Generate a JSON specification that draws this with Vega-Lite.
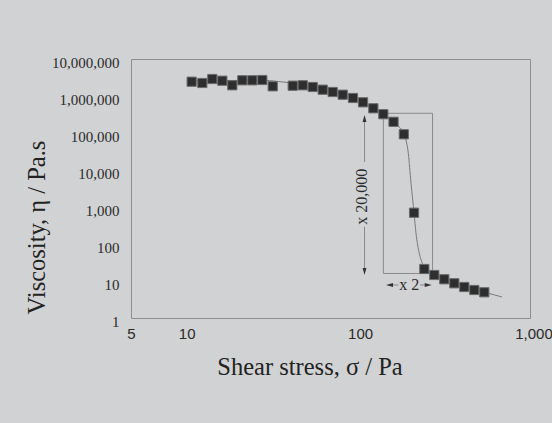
{
  "$schema": "https://vega.github.io/schema/vega-lite/v6.json",
  "width": 399,
  "height": 259,
  "autosize": "none",
  "padding": {"left": 131, "top": 59, "right": 22, "bottom": 105},
  "background": "#d1d2d4",
  "config": {
    "view": {"stroke": "#8e8e8e", "strokeWidth": 1}
  },
  "datasets": {
    "points": [
      {"x": 11.19, "y": 2435000}, {"x": 12.89, "y": 2246000}, {"x": 14.72, "y": 2880000},
      {"x": 16.81, "y": 2590000}, {"x": 19.20, "y": 1947000}, {"x": 21.93, "y": 2657000},
      {"x": 25.03, "y": 2657000}, {"x": 28.59, "y": 2706000}, {"x": 32.83, "y": 1829000},
      {"x": 42.82, "y": 1898000}, {"x": 48.90, "y": 1947000}, {"x": 55.83, "y": 1751000},
      {"x": 63.76, "y": 1480000}, {"x": 72.81, "y": 1283000}, {"x": 83.16, "y": 1084000},
      {"x": 95.35, "y": 883000}, {"x": 108.9, "y": 675500}, {"x": 124.9, "y": 465100},
      {"x": 142.6, "y": 322200}, {"x": 163.3, "y": 200800}, {"x": 187.2, "y": 92250},
      {"x": 214.4, "y": 701}, {"x": 245.8, "y": 21.1}, {"x": 280.6, "y": 14.53},
      {"x": 320.4, "y": 11.12}, {"x": 366.0, "y": 8.67}, {"x": 418.0, "y": 6.88},
      {"x": 477.3, "y": 5.71}, {"x": 545.1, "y": 4.95}
    ],
    "curve": [
      {"x": 11.24, "y": 2543000}, {"x": 18.62, "y": 2624000}, {"x": 29.64, "y": 2624000},
      {"x": 37.63, "y": 2389000}, {"x": 49.09, "y": 2046000}, {"x": 64.0, "y": 1595000},
      {"x": 83.5, "y": 1098000}, {"x": 108.9, "y": 667000}, {"x": 142.1, "y": 326000},
      {"x": 168.8, "y": 175100}, {"x": 187.7, "y": 91100}, {"x": 198.7, "y": 28300},
      {"x": 206.0, "y": 4370}, {"x": 214.4, "y": 701}, {"x": 220.1, "y": 194.6},
      {"x": 229.9, "y": 56.1}, {"x": 239.3, "y": 30.1}, {"x": 248.1, "y": 20.5},
      {"x": 280.6, "y": 14.53}, {"x": 320.4, "y": 11.12}, {"x": 366.0, "y": 8.67},
      {"x": 418.0, "y": 6.88}, {"x": 477.3, "y": 5.71}, {"x": 545.1, "y": 4.95},
      {"x": 689.6, "y": 3.70}
    ],
    "box": [{"x": 142.6, "x2": 274.1, "y": 341000, "y2": 15.95}],
    "segs": [
      {"x": 111.1, "x2": 111.1, "y": 246500, "y2": 16450},
      {"x": 111.1, "x2": 111.1, "y": 293.6, "y2": 18.07},
      {"x": 154.8, "x2": 174.4, "y": 7.80, "y2": 7.80},
      {"x": 232.1, "x2": 258.8, "y": 7.80, "y2": 7.80}
    ],
    "heads": [
      {"x": 111.1, "y": 246500, "dir": "up"},
      {"x": 111.1, "y": 18.07, "dir": "down"},
      {"x": 154.8, "y": 7.80, "dir": "left"},
      {"x": 258.8, "y": 7.80, "dir": "right"}
    ],
    "notes": [
      {"x": 107.9, "y": 1898, "text": "x 20,000", "kind": "vertical"},
      {"x": 201.4, "y": 7.80, "text": "x 2", "kind": "horizontal"}
    ]
  },
  "encoding": {
    "x": {
      "field": "x",
      "type": "quantitative",
      "scale": {"type": "log", "domain": [5, 1000], "nice": false},
      "axis": {
        "values": [5, 10, 100, 1000],
        "format": ",",
        "ticks": false,
        "domain": false,
        "grid": false,
        "labelFont": "Liberation Sans",
        "labelFontSize": 15,
        "labelColor": "#2a2a2a",
        "labelPadding": 8,
        "labelOffset": {"condition": {"test": "datum.value == 5", "value": 0}, "value": 3.5},
        "labelFlush": false,
        "title": "Shear stress, σ / Pa",
        "titleFont": "Liberation Serif",
        "titleFontSize": 24.5,
        "titleFontWeight": "normal",
        "titleColor": "#222222",
        "titleX": 178.5,
        "titleY": 56,
        "titleBaseline": "alphabetic",
        "titleAlign": "center"
      }
    },
    "y": {
      "field": "y",
      "type": "quantitative",
      "scale": {"type": "log", "domain": [1, 10000000], "nice": false},
      "axis": {
        "values": [1, 10, 100, 1000, 10000, 100000, 1000000, 10000000],
        "format": ",",
        "ticks": false,
        "domain": false,
        "grid": false,
        "labelFont": "Liberation Serif",
        "labelFontSize": 15,
        "labelColor": "#2a2a2a",
        "labelPadding": 12,
        "labelOffset": 3.5,
        "labelFlush": false,
        "title": "Viscosity, η / Pa.s",
        "titleFont": "Liberation Serif",
        "titleFontSize": 24.5,
        "titleFontWeight": "normal",
        "titleColor": "#222222",
        "titleAngle": 270,
        "titleX": -87,
        "titleY": 168,
        "titleBaseline": "alphabetic",
        "titleAlign": "center"
      }
    }
  },
  "layer": [
    {
      "data": {"name": "curve"},
      "mark": {"type": "line", "color": "#7a7a7a", "strokeWidth": 1, "interpolate": "monotone"}
    },
    {
      "data": {"name": "box"},
      "mark": {"type": "rect", "fill": null, "fillOpacity": 0, "stroke": "#8a8a8a", "strokeWidth": 1},
      "encoding": {
        "x2": {"field": "x2"},
        "y2": {"field": "y2"}
      }
    },
    {
      "data": {"name": "segs"},
      "mark": {"type": "rule", "color": "#8a8a8a", "strokeWidth": 1},
      "encoding": {
        "x2": {"field": "x2"},
        "y2": {"field": "y2"}
      }
    },
    {
      "data": {"name": "heads"},
      "mark": {"type": "point", "filled": true, "color": "#333333", "size": 49, "opacity": 1},
      "encoding": {
        "shape": {
          "field": "dir",
          "type": "nominal",
          "legend": null,
          "scale": {
            "domain": ["up", "down", "left", "right"],
            "range": [
              "M0,-1L0.55,1L-0.55,1Z",
              "M0,1L0.55,-1L-0.55,-1Z",
              "M-1,0L1,-0.55L1,0.55Z",
              "M1,0L-1,-0.55L-1,0.55Z"
            ]
          }
        }
      }
    },
    {
      "data": {"name": "points"},
      "mark": {"type": "point", "shape": "square", "filled": true, "color": "#2e2e2e", "stroke": "#6a6a6a", "strokeWidth": 1, "size": 85, "opacity": 1}
    },
    {
      "data": {"name": "notes"},
      "transform": [{"filter": "datum.kind == 'vertical'"}],
      "mark": {"type": "text", "font": "Liberation Serif", "fontSize": 16, "color": "#2a2a2a", "angle": 270, "align": "center", "baseline": "middle"},
      "encoding": {"text": {"field": "text"}}
    },
    {
      "data": {"name": "notes"},
      "transform": [{"filter": "datum.kind == 'horizontal'"}],
      "mark": {"type": "text", "font": "Liberation Serif", "fontSize": 16, "color": "#2a2a2a", "align": "center", "baseline": "middle"},
      "encoding": {"text": {"field": "text"}}
    }
  ]
}
